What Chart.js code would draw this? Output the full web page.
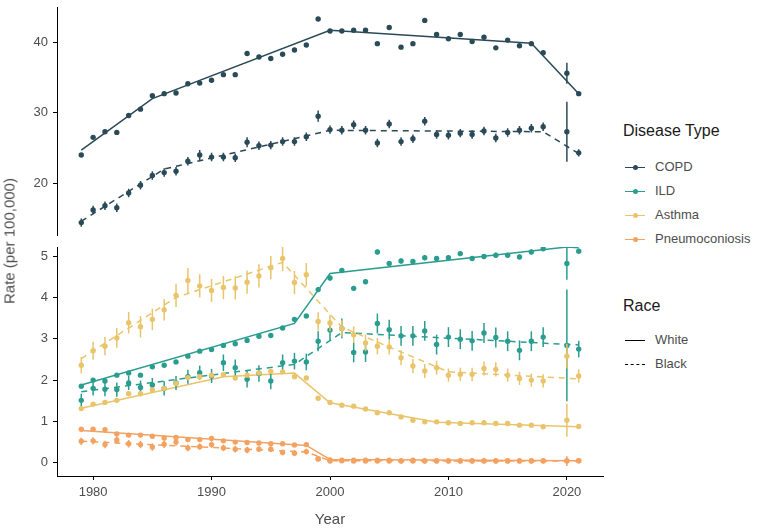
<!DOCTYPE html>
<html>
<head>
<meta charset="utf-8">
<script src="https://cdn.jsdelivr.net/npm/chart.js@4.4.0/dist/chart.umd.min.js"></script>
<style>
  body { margin: 0; background: #fff; font-family: "Liberation Sans", Arial, sans-serif; }
  #wrap { position: relative; width: 757px; height: 529px; overflow: hidden; }
  #top { position: absolute; left: 0; top: 0; }
  #bot { position: absolute; left: 0; top: 238px; }
  .ytitle { position: absolute; left: 9px; top: 241px; transform: translate(-50%, -50%) rotate(-90deg);
            font-size: 15px; color: #4d4d4d; white-space: nowrap; }
  .lgtitle { position: absolute; font-size: 16px; color: #1a1a1a; line-height: 18px; white-space: nowrap; }
  .lglabel { position: absolute; font-size: 13px; color: #4d4d4d; line-height: 16px; white-space: nowrap; }
  .key { position: absolute; width: 20px; height: 0; }
  .dot { position: absolute; width: 5px; height: 5px; border-radius: 50%; left: 7.5px; top: -3.5px; }
</style>
</head>
<body>
<div id="wrap">
  <canvas id="top" width="610" height="238"></canvas>
  <canvas id="bot" width="610" height="291"></canvas>
  <div class="ytitle">Rate (per 100,000)</div>
  <div id="legend"></div>
</div>
<script>
// observed rates, 2019 not shown
const years = [1979,1980,1981,1982,1983,1984,1985,1986,1987,1988,1989,1990,1991,1992,1993,1994,1995,1996,1997,1998,
               1999,2000,2001,2002,2003,2004,2005,2006,2007,2008,2009,2010,2011,2012,2013,2014,2015,2016,2017,2018,2020,2021];

const copdWhite = [24.0,26.5,27.3,27.2,29.6,30.5,32.4,32.7,32.8,34.1,34.2,34.6,35.4,35.4,38.4,37.9,37.7,38.3,38.9,39.6,
                   43.3,41.6,41.6,41.7,41.7,39.8,42.1,39.3,39.8,43.1,41.1,40.5,41.1,40.1,40.7,39.2,40.3,39.5,39.8,38.5,35.6,32.7];
const copdWhiteErr = [0,0,0,0,0,0,0,0,0,0,0,0,0,0,0,0,0,0,0,0,0,0,0,0,0,0,0,0,0,0,0,0,0,0,0,0,0,0,0,0,1.5,0];
const copdBlack = [14.4,16.2,16.8,16.5,18.6,19.7,21.1,21.5,21.7,23.1,24.0,23.7,23.7,23.6,25.8,25.3,25.4,25.9,25.9,26.6,
                   29.5,27.6,27.5,28.3,27.5,25.7,28.4,25.9,26.3,28.8,26.9,26.8,27.1,26.9,27.4,26.4,27.2,27.5,27.8,28.0,27.3,24.3];
const copdBlackErr = [0.6,0.6,0.6,0.6,0.6,0.6,0.6,0.6,0.6,0.6,0.7,0.6,0.6,0.6,0.7,0.6,0.6,0.6,0.6,0.6,
                      0.8,0.6,0.6,0.6,0.6,0.6,0.6,0.6,0.6,0.6,0.6,0.6,0.6,0.6,0.6,0.6,0.6,0.6,0.6,0.6,4.25,0.5];

const ildWhite = [1.85,2.00,1.98,2.12,2.17,2.12,2.32,2.36,2.44,2.58,2.70,2.74,2.84,2.88,2.96,3.06,3.08,3.26,3.47,3.55,
                  4.19,4.47,4.65,4.22,4.38,5.10,4.82,4.88,4.87,4.96,4.94,4.96,5.06,4.94,4.99,5.02,5.02,4.98,5.10,5.18,4.82,5.12];
const ildWhiteErr = [0.04,0.04,0.04,0.04,0.04,0.04,0.04,0.04,0.04,0.04,0.04,0.04,0.04,0.04,0.04,0.04,0.04,0.04,0.04,0.04,
                     0.06,0.06,0.06,0.06,0.06,0.06,0.06,0.06,0.06,0.06,0.06,0.06,0.06,0.06,0.06,0.06,0.06,0.06,0.06,0.06,0.39,0.06];
const ildBlack = [1.51,1.80,1.78,1.77,1.93,1.82,1.88,1.80,1.93,2.08,2.18,2.10,2.42,2.30,2.02,2.16,1.98,2.42,2.46,2.44,
                  2.94,3.21,3.25,2.67,2.68,3.37,3.22,3.07,3.07,3.19,2.86,3.04,2.99,2.95,3.14,3.03,2.94,2.72,2.94,3.04,2.84,2.75];
const ildBlackErr = [0.16,0.17,0.17,0.17,0.17,0.17,0.17,0.17,0.17,0.17,0.17,0.17,0.2,0.2,0.2,0.2,0.2,0.2,0.2,0.2,
                     0.24,0.24,0.24,0.24,0.24,0.24,0.24,0.24,0.24,0.24,0.24,0.24,0.24,0.24,0.24,0.24,0.24,0.24,0.24,0.24,1.35,0.2];

const asthmaWhite = [1.31,1.42,1.46,1.51,1.67,1.67,1.76,1.80,1.92,2.06,2.08,2.12,2.13,2.05,2.12,2.17,2.21,2.20,2.08,2.05,
                     1.56,1.46,1.39,1.37,1.30,1.21,1.21,1.11,1.03,0.99,0.99,0.97,0.95,0.97,0.97,0.95,0.95,0.91,0.91,0.87,1.03,0.88];
const asthmaWhiteErr = [0,0,0,0,0,0,0,0,0,0,0,0,0,0,0,0,0,0,0,0,0,0,0,0,0,0,0,0,0,0,0,0,0,0,0,0,0,0,0,0,0.4,0];
const asthmaBlack = [2.36,2.71,2.82,3.02,3.39,3.29,3.47,3.70,4.05,4.41,4.28,4.17,4.24,4.23,4.37,4.52,4.72,4.94,4.36,4.55,
                     3.42,3.38,3.25,3.10,2.90,2.82,2.80,2.54,2.34,2.22,2.30,2.12,2.14,2.14,2.28,2.26,2.12,2.04,2.00,1.98,2.58,2.10];
const asthmaBlackErr = [0.2,0.22,0.22,0.24,0.26,0.26,0.26,0.26,0.28,0.3,0.28,0.28,0.28,0.28,0.28,0.28,0.28,0.3,0.28,0.28,
                        0.22,0.2,0.2,0.2,0.2,0.2,0.18,0.18,0.17,0.17,0.17,0.16,0.16,0.16,0.17,0.17,0.16,0.16,0.16,0.16,0.3,0.16];

const pneumoWhite = [0.81,0.81,0.80,0.70,0.67,0.67,0.64,0.60,0.61,0.56,0.56,0.59,0.53,0.50,0.49,0.48,0.46,0.46,0.43,0.44,
                     0.10,0.07,0.06,0.06,0.06,0.06,0.06,0.05,0.06,0.05,0.05,0.05,0.05,0.05,0.05,0.05,0.05,0.05,0.05,0.05,0.05,0.05];
const pneumoWhiteErr = [0,0,0,0,0,0,0,0,0,0,0,0,0,0,0,0,0,0,0,0,0,0,0,0,0,0,0,0,0,0,0,0,0,0,0,0,0,0,0,0,0.06,0];
const pneumoBlack = [0.52,0.53,0.44,0.55,0.46,0.44,0.38,0.45,0.50,0.36,0.39,0.44,0.36,0.33,0.31,0.33,0.33,0.25,0.23,0.27,
                     0.09,0.04,0.05,0.04,0.04,0.04,0.04,0.04,0.04,0.04,0.04,0.04,0.04,0.04,0.04,0.04,0.04,0.04,0.04,0.04,0.04,0.05];
const pneumoBlackErr = [0.09,0.09,0.09,0.09,0.09,0.09,0.09,0.09,0.09,0.08,0.08,0.08,0.08,0.08,0.08,0.07,0.07,0.07,0.07,0.07,
                        0.04,0.03,0.03,0.03,0.03,0.03,0.03,0.03,0.03,0.03,0.03,0.03,0.03,0.03,0.03,0.03,0.03,0.03,0.03,0.03,0.12,0.03];

// joinpoint fitted trends (knot years and fitted values)
const copdWhiteFitYears = [1979, 1985, 2000, 2017, 2021];
const copdWhiteFit      = [24.7, 32.0, 41.7, 39.85, 32.7];
const copdBlackFitYears = [1979, 1986, 2000, 2018, 2021];
const copdBlackFit      = [14.6, 22.0, 27.5, 27.3, 24.2];
const ildWhiteFitYears  = [1979, 1997, 2000, 2020, 2021];
const ildWhiteFit       = [1.88, 3.37, 4.58, 5.22, 5.20];
const ildBlackFitYears  = [1979, 1997, 2001, 2021];
const ildBlackFit       = [1.72, 2.38, 3.15, 2.85];
const asthmaWhiteFitYears = [1979, 1991, 1997, 2000, 2009, 2021];
const asthmaWhiteFit      = [1.32, 2.08, 2.17, 1.45, 0.98, 0.87];
const asthmaBlackFitYears = [1979, 1987, 1996, 2001, 2010, 2021];
const asthmaBlackFit      = [2.52, 4.00, 4.85, 3.28, 2.20, 2.03];
const pneumoWhiteFitYears = [1979, 1998, 2000, 2021];
const pneumoWhiteFit      = [0.78, 0.42, 0.08, 0.05];
const pneumoBlackFitYears = [1979, 1998, 2000, 2021];
const pneumoBlackFit      = [0.52, 0.26, 0.05, 0.04];

const diseases = ['COPD', 'ILD', 'Asthma', 'Pneumoconiosis'];
const colors = ['#2a4a58', '#2a9d8f', '#e9c46a', '#f4a261'];
const races = ['White', 'Black'];

const xTicks = [1980, 1990, 2000, 2010, 2020];
const topTicks = [20, 30, 40];
const botTicks = [0, 1, 2, 3, 4, 5];

const DASH = [6, 5];
const tickFont = { family: '"Liberation Sans", Arial, sans-serif', size: 13 };

function pts(vals) { return years.map((y, i) => ({ x: y, y: vals[i] })); }
function fit(ys, vals) { return ys.map((y, i) => ({ x: y, y: vals[i] })); }

function lineDs(ys, vals, color, dashed, order) {
  return { type: 'line', data: fit(ys, vals), borderColor: color, borderWidth: 1.5,
           borderDash: dashed ? DASH : [], pointRadius: 0, fill: false, tension: 0, order: order };
}
function pointDs(vals, err, color, order) {
  return { type: 'scatter', data: pts(vals), err: err, borderColor: color, backgroundColor: color,
           pointRadius: 2.7, pointBorderWidth: 0, pointHoverRadius: 2.7, order: order };
}

// vertical intervals round the points
const errorBars = {
  id: 'errorBars',
  afterDatasetDraw(chart, args) {
    const ds = chart.data.datasets[args.index];
    if (!ds.err) return;
    const { ctx, chartArea, scales } = chart;
    ctx.save();
    ctx.beginPath();
    ctx.rect(chartArea.left, chartArea.top, chartArea.width, chartArea.height);
    ctx.clip();
    ctx.strokeStyle = ds.borderColor;
    ctx.lineWidth = 1.5;
    ds.data.forEach((p, i) => {
      const e = ds.err[i];
      if (!e) return;
      const px = scales.x.getPixelForValue(p.x);
      ctx.beginPath();
      ctx.moveTo(px, scales.y.getPixelForValue(p.y - e));
      ctx.lineTo(px, scales.y.getPixelForValue(p.y + e));
      ctx.stroke();
    });
    ctx.restore();
  }
};

function yScale(min, max, ticks) {
  return {
    type: 'linear', min: min, max: max,
    afterBuildTicks: s => { s.ticks = ticks.map(v => ({ value: v })); },
    afterFit: s => { s.width = 57; s.paddingTop = 0; s.paddingBottom = 0; },
    border: { display: true, color: '#000', width: 1 },
    grid: { display: true, drawOnChartArea: false, drawTicks: true, tickLength: 4, color: '#000', tickColor: '#000' },
    ticks: { color: '#4d4d4d', font: tickFont, padding: 5 }
  };
}

const xMin = 1976.95, xMax = 2023.05;

new Chart(document.getElementById('top'), {
  data: {
    datasets: [
      pointDs(copdWhite, copdWhiteErr, colors[0], 1),
      pointDs(copdBlack, copdBlackErr, colors[0], 2),
      lineDs(copdWhiteFitYears, copdWhiteFit, colors[0], false, 10),
      lineDs(copdBlackFitYears, copdBlackFit, colors[0], true, 11)
    ]
  },
  options: {
    responsive: false, animation: false, devicePixelRatio: 1,
    layout: { padding: { top: 7, bottom: 1, left: 0, right: 7 } },
    plugins: { legend: { display: false }, tooltip: { enabled: false } },
    scales: {
      x: { type: 'linear', min: xMin, max: xMax, display: false },
      y: yScale(12.6, 45.0, topTicks)
    }
  },
  plugins: [errorBars]
});

new Chart(document.getElementById('bot'), {
  data: {
    datasets: [
      pointDs(pneumoWhite, pneumoWhiteErr, colors[3], 1),
      pointDs(pneumoBlack, pneumoBlackErr, colors[3], 2),
      pointDs(asthmaWhite, asthmaWhiteErr, colors[2], 3),
      pointDs(asthmaBlack, asthmaBlackErr, colors[2], 4),
      pointDs(ildWhite, ildWhiteErr, colors[1], 5),
      pointDs(ildBlack, ildBlackErr, colors[1], 6),
      lineDs(pneumoWhiteFitYears, pneumoWhiteFit, colors[3], false, 10),
      lineDs(pneumoBlackFitYears, pneumoBlackFit, colors[3], true, 11),
      lineDs(asthmaWhiteFitYears, asthmaWhiteFit, colors[2], false, 12),
      lineDs(asthmaBlackFitYears, asthmaBlackFit, colors[2], true, 13),
      lineDs(ildWhiteFitYears, ildWhiteFit, colors[1], false, 14),
      lineDs(ildBlackFitYears, ildBlackFit, colors[1], true, 15)
    ]
  },
  options: {
    responsive: false, animation: false, devicePixelRatio: 1,
    layout: { padding: { top: 9, bottom: 0, left: 0, right: 7 } },
    plugins: { legend: { display: false }, tooltip: { enabled: false } },
    scales: {
      x: {
        type: 'linear', min: xMin, max: xMax,
        afterBuildTicks: s => { s.ticks = xTicks.map(v => ({ value: v })); },
        afterFit: s => { s.height = 53; s.paddingLeft = 0; s.paddingRight = 0; },
        border: { display: true, color: '#000', width: 1 },
        grid: { display: true, drawOnChartArea: false, drawTicks: true, tickLength: 4, color: '#000', tickColor: '#000' },
        ticks: { color: '#4d4d4d', font: tickFont, padding: 5, maxRotation: 0, callback: v => String(v) },
        title: { display: true, text: 'Year', color: '#4d4d4d',
                 font: { family: '"Liberation Sans", Arial, sans-serif', size: 15 }, padding: { top: 4, bottom: 0 } }
      },
      y: yScale(-0.32, 5.22, botTicks)
    }
  },
  plugins: [errorBars]
});

// legend
const lg = document.getElementById('legend');
function add(html) { lg.insertAdjacentHTML('beforeend', html); }
add('<div class="lgtitle" style="left:623px;top:122px">Disease Type</div>');
const dYs = [167, 191, 215, 239];
diseases.forEach((d, i) => {
  add('<div class="key" style="left:625px;top:' + dYs[i] + 'px;border-top:1.5px solid ' + colors[i] + '">' +
      '<div class="dot" style="background:' + colors[i] + '"></div></div>');
  add('<div class="lglabel" style="left:655px;top:' + (dYs[i] - 8) + 'px">' + d + '</div>');
});
add('<div class="lgtitle" style="left:623px;top:297px">Race</div>');
const rYs = [340, 364];
races.forEach((r, i) => {
  const style = i === 0 ? 'border-top:1.5px solid #000' : 'border-top:1.5px dashed #000';
  add('<div class="key" style="left:625px;top:' + rYs[i] + 'px;' + style + '"></div>');
  add('<div class="lglabel" style="left:655px;top:' + (rYs[i] - 8) + 'px">' + r + '</div>');
});
</script>
</body>
</html>
